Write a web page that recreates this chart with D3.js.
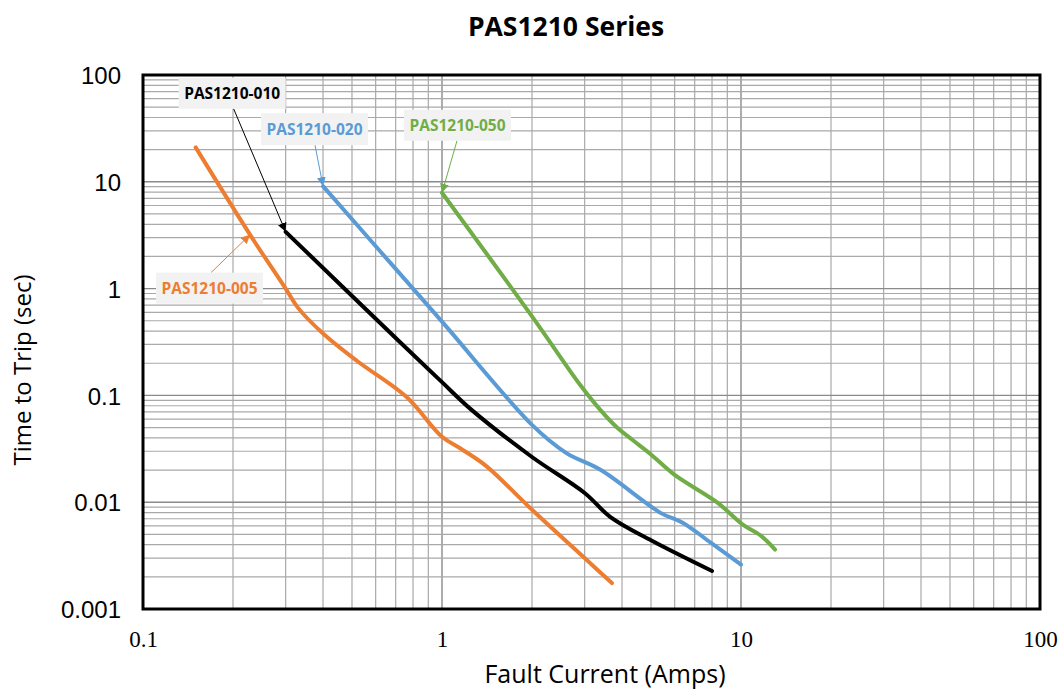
<!DOCTYPE html>
<html>
<head>
<meta charset="utf-8">
<script src="https://cdn.jsdelivr.net/npm/d3@7/dist/d3.min.js"></script>
<style>
  html, body { margin: 0; padding: 0; background: #fff; }
  svg { display: block; }
</style>
</head>
<body>
<svg id="chart" width="1061" height="692"></svg>
<script>
// ---- data ----
const chartTitle = "PAS1210 Series";
const xTitle = "Fault Current (Amps)";
const yTitle = "Time to Trip (sec)";
const xTickValues = [0.1, 1, 10, 100];
const xTickLabels = ["0.1", "1", "10", "100"];
const yTickValues = [0.001, 0.01, 0.1, 1, 10, 100];
const yTickLabels = ["0.001", "0.01", "0.1", "1", "10", "100"];

const seriesNames = ["PAS1210-005", "PAS1210-010", "PAS1210-020", "PAS1210-050"];
const seriesColors = ["#ED7D31", "#000000", "#5B9BD5", "#70AD47"];

const current005 = [0.15, 0.228, 0.3, 0.33, 0.4, 0.52, 0.76, 1.0, 1.15, 1.4, 2.0, 3.0, 3.7];
const time005    = [21, 3.2, 1.0, 0.66, 0.38, 0.21, 0.097, 0.041, 0.032, 0.022, 0.0085, 0.003, 0.00175];

const current010 = [0.3, 0.72, 1.0, 1.25, 2.0, 3.0, 3.65, 5.0, 8.0];
const time010    = [3.4, 0.32, 0.133, 0.074, 0.0265, 0.0122, 0.0073, 0.0044, 0.00227];

const current020 = [0.4, 0.62, 1.0, 2.0, 2.6, 3.4, 5.4, 6.4, 7.9, 10];
const time020    = [9.1, 2.25, 0.49, 0.053, 0.029, 0.02, 0.0079, 0.0064, 0.0042, 0.0026];

const current050 = [1.0, 2.0, 2.9, 3.4, 3.85, 4.35, 5.0, 6.0, 8.3, 10.2, 11.6, 13];
const time050    = [7.9, 0.55, 0.125, 0.072, 0.05, 0.038, 0.028, 0.018, 0.01, 0.0061, 0.0049, 0.0036];

// which data point each callout arrow points at
const calloutPointIndex = [1, 0, 0, 0];

// ---- layout ----
const plot = { left: 143, right: 1040, top: 75, bottom: 609 };

const svg = d3.select("#chart");
const x = d3.scaleLog().domain([0.1, 100]).range([plot.left, plot.right]);
const y = d3.scaleLog().domain([0.001, 100]).range([plot.bottom, plot.top]);

const series = [
  { name: seriesNames[0], color: seriesColors[0], xs: current005, ys: time005 },
  { name: seriesNames[1], color: seriesColors[1], xs: current010, ys: time010 },
  { name: seriesNames[2], color: seriesColors[2], xs: current020, ys: time020 },
  { name: seriesNames[3], color: seriesColors[3], xs: current050, ys: time050 }
];

// ---- grid ----
function logTicks(lo, hi) {
  const out = [];
  for (let e = Math.round(Math.log10(lo)); e < Math.round(Math.log10(hi)); e++) {
    for (let m = 1; m < 10; m++) out.push({ v: m * Math.pow(10, e), major: m === 1 });
  }
  out.push({ v: hi, major: true });
  return out;
}
const gGrid = svg.append("g");
logTicks(0.1, 100).forEach(t => {
  gGrid.append("line")
    .attr("x1", x(t.v)).attr("x2", x(t.v))
    .attr("y1", plot.top).attr("y2", plot.bottom)
    .attr("stroke", t.major ? "#8a8a8a" : "#a9a9a9")
    .attr("stroke-width", t.major ? 1.4 : 1.2);
});
logTicks(0.001, 100).forEach(t => {
  gGrid.append("line")
    .attr("x1", plot.left).attr("x2", plot.right)
    .attr("y1", y(t.v)).attr("y2", y(t.v))
    .attr("stroke", t.major ? "#8a8a8a" : "#a9a9a9")
    .attr("stroke-width", t.major ? 1.4 : 1.2);
});

// ---- axes (labels only, frame drawn separately) ----
const xAxis = d3.axisBottom(x).tickValues(xTickValues)
  .tickFormat((d, i) => xTickLabels[i]).tickSize(0).tickPadding(0);
const gx = svg.append("g").attr("transform", `translate(0,${plot.bottom})`).call(xAxis);
gx.select(".domain").remove();
gx.selectAll("text")
  .attr("dy", null).attr("y", 38)
  .style("font-family", "'Liberation Serif', 'Times New Roman', serif")
  .style("font-size", "23px").attr("fill", "#000");

const yAxis = d3.axisLeft(y).tickValues(yTickValues)
  .tickFormat((d, i) => yTickLabels[i]).tickSize(0).tickPadding(0);
const gy = svg.append("g").attr("transform", `translate(${plot.left},0)`).call(yAxis);
gy.select(".domain").remove();
gy.selectAll("text")
  .attr("x", -22).attr("dy", "0.36em")
  .style("font-family", "'Liberation Sans', Arial, sans-serif")
  .style("font-size", "24px").attr("fill", "#000");

// ---- frame ----
svg.append("rect")
  .attr("x", plot.left).attr("y", plot.top)
  .attr("width", plot.right - plot.left).attr("height", plot.bottom - plot.top)
  .attr("fill", "none").attr("stroke", "#000").attr("stroke-width", 3);

// ---- curves ----
const line = d3.line().x(d => x(d[0])).y(d => y(d[1])).curve(d3.curveCatmullRom.alpha(0.5));
const gLines = svg.append("g");
series.forEach(s => {
  const pts = s.xs.map((v, i) => [v, s.ys[i]]);
  gLines.append("path").datum(pts)
    .attr("d", line)
    .attr("fill", "none")
    .attr("stroke", s.color)
    .attr("stroke-width", 4)
    .attr("stroke-linecap", "round")
    .attr("stroke-linejoin", "round");
});

// ---- callouts ----
const defs = svg.append("defs");
series.forEach((s, i) => {
  defs.append("marker")
    .attr("id", "arr" + i)
    .attr("viewBox", "0 0 10 10")
    .attr("refX", 10).attr("refY", 5)
    .attr("markerWidth", 9).attr("markerHeight", 9)
    .attr("markerUnits", "userSpaceOnUse")
    .attr("orient", "auto")
    .append("path").attr("d", "M0,0 L10,5 L0,10 Z").attr("fill", s.color);
});
// box placement (pixel offsets from the pointed data point)
const calloutBoxes = [
  { bx: -94, by: 38, w: 107, h: 31, ax: -39, ay: 38 },
  { bx: -107, by: -154, w: 107, h: 31, ax: -52, ay: -123 },
  { bx: -62, by: -73, w: 107, h: 32, ax: -8, ay: -41 },
  { bx: -38, by: -83, w: 107, h: 31, ax: 15, ay: -52 }
];
const gCall = svg.append("g");
series.forEach((s, i) => {
  const k = calloutPointIndex[i];
  const px = x(s.xs[k]), py = y(s.ys[k]);
  const b = calloutBoxes[i];
  gCall.append("line")
    .attr("x1", px + b.ax).attr("y1", py + b.ay)
    .attr("x2", px).attr("y2", py)
    .attr("stroke", s.color).attr("stroke-width", 1)
    .attr("marker-end", `url(#arr${i})`);
  gCall.append("rect")
    .attr("x", px + b.bx).attr("y", py + b.by)
    .attr("width", b.w).attr("height", b.h)
    .attr("fill", "#f2f2f2");
  gCall.append("text")
    .attr("x", px + b.bx + b.w / 2).attr("y", py + b.by + b.h / 2)
    .attr("dy", "0.35em").attr("text-anchor", "middle")
    .style("font-family", "'Open Sans', sans-serif")
    .style("font-weight", "bold").style("font-size", "15.5px")
    .attr("fill", s.color)
    .text(s.name);
});

// ---- titles ----
svg.append("text")
  .attr("x", 566).attr("y", 36).attr("text-anchor", "middle")
  .style("font-family", "'Open Sans', sans-serif").style("font-weight", "bold")
  .style("font-size", "26.5px").attr("fill", "#000")
  .text(chartTitle);

svg.append("text")
  .attr("x", 605).attr("y", 683).attr("text-anchor", "middle")
  .style("font-family", "'Open Sans', sans-serif")
  .style("font-size", "25px").attr("fill", "#000")
  .text(xTitle);

svg.append("text")
  .attr("transform", `translate(31,370) rotate(-90)`)
  .attr("text-anchor", "middle")
  .style("font-family", "'Open Sans', sans-serif")
  .style("font-size", "24px").attr("fill", "#000")
  .text(yTitle);
</script>
</body>
</html>
